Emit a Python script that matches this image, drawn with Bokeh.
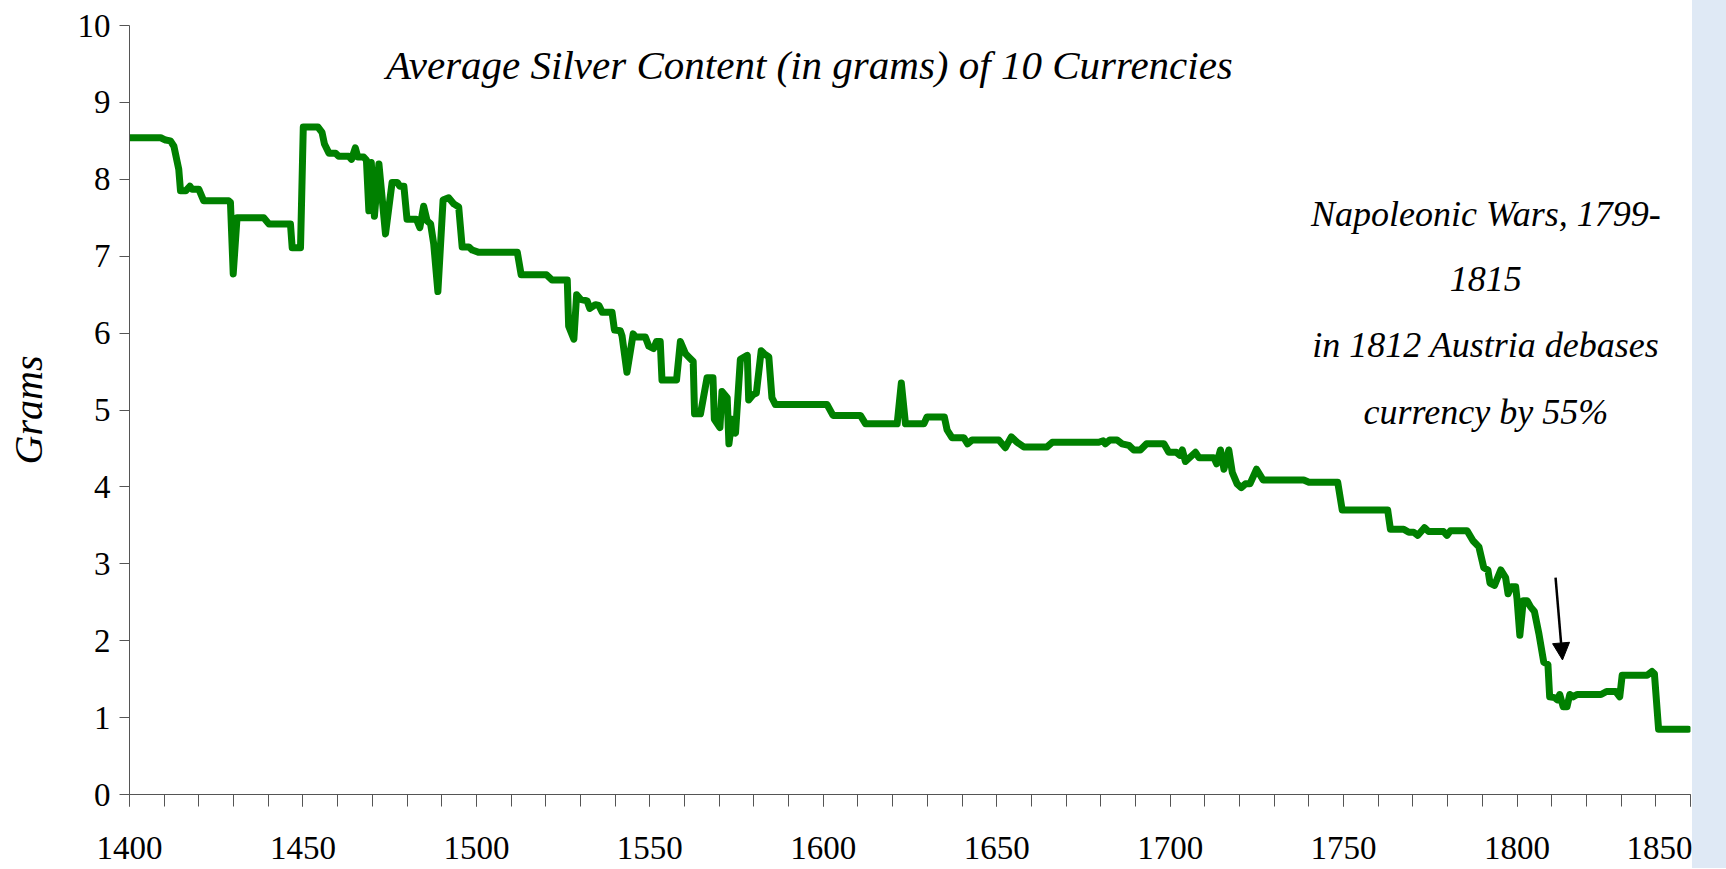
from bokeh.plotting import figure
from bokeh.models import (ColumnDataSource, Range1d, FixedTicker, Label, Arrow,
                          NormalHead, Div)
from bokeh.layouts import row
from bokeh.embed import file_html
from bokeh.resources import INLINE

# ---- data ----
years = [1400.0, 1409.0, 1410.4, 1411.8, 1412.8, 1414.2, 1414.7, 1416.2, 1417.4, 1418.1,
         1420.0, 1421.4, 1428.6, 1429.1, 1429.9, 1431.0, 1438.7, 1440.2, 1446.4, 1446.9,
         1449.3, 1450.1, 1454.3, 1455.5, 1456.2, 1457.5, 1459.4, 1460.3, 1463.2, 1464.0,
         1465.1, 1465.8, 1467.5, 1468.3, 1469.0, 1469.7, 1470.6, 1471.9, 1473.8, 1475.7,
         1477.2, 1477.9, 1479.1, 1480.0, 1482.7, 1483.7, 1484.8, 1485.8, 1486.8, 1487.7,
         1488.9, 1490.4, 1492.0, 1493.5, 1494.9, 1495.9, 1497.8, 1498.8, 1500.7, 1511.8,
         1512.9, 1520.2, 1521.8, 1526.2, 1526.6, 1528.1, 1528.9, 1530.0, 1531.9, 1532.7,
         1534.3, 1535.3, 1536.3, 1539.1, 1539.8, 1541.5, 1542.0, 1543.4, 1545.2, 1545.9,
         1548.7, 1549.7, 1551.1, 1551.9, 1553.0, 1553.5, 1557.7, 1558.8, 1560.3, 1561.2,
         1562.5, 1562.9, 1564.6, 1566.5, 1568.2, 1568.6, 1570.2, 1570.8, 1572.3, 1572.8,
         1573.7, 1574.7, 1576.1, 1578.1, 1578.5, 1579.8, 1580.7, 1582.1, 1583.0, 1584.3,
         1585.2, 1586.2, 1601.1, 1602.8, 1610.7, 1612.2, 1621.3, 1622.5, 1623.7, 1629.0,
         1629.9, 1634.9, 1635.7, 1637.1, 1640.5, 1641.6, 1642.9, 1650.6, 1652.5, 1654.2,
         1655.9, 1657.8, 1664.5, 1666.0, 1679.4, 1680.7, 1681.3, 1682.6, 1684.7, 1686.1,
         1688.1, 1689.5, 1691.4, 1693.2, 1698.2, 1699.6, 1701.8, 1702.8, 1703.5, 1704.4,
         1707.3, 1708.3, 1712.6, 1713.4, 1714.5, 1715.5, 1716.9, 1717.9, 1719.3, 1720.5,
         1721.7, 1723.0, 1724.9, 1726.8, 1738.5, 1740.0, 1748.3, 1749.6, 1762.7, 1763.5,
         1767.3, 1768.8, 1770.2, 1771.4, 1773.3, 1774.5, 1778.8, 1779.8, 1780.8, 1785.6,
         1787.3, 1789.0, 1790.4, 1791.6, 1792.2, 1793.5, 1795.3, 1796.7, 1797.4, 1798.3,
         1799.6, 1800.0, 1800.8, 1801.8, 1802.9, 1803.9, 1805.0, 1806.3, 1807.7, 1808.9,
         1809.4, 1810.8, 1811.6, 1812.3, 1813.3, 1814.4, 1815.2, 1816.2, 1817.3, 1824.2,
         1825.8, 1828.4, 1829.6, 1830.3, 1837.5, 1838.9, 1839.6, 1840.8, 1849.3]
grams = [8.54, 8.54, 8.51, 8.50, 8.43, 8.13, 7.85, 7.85, 7.91, 7.87,
         7.87, 7.72, 7.72, 7.70, 6.77, 7.50, 7.50, 7.42, 7.42, 7.11,
         7.11, 8.68, 8.68, 8.61, 8.46, 8.34, 8.34, 8.30, 8.30, 8.26,
         8.41, 8.29, 8.29, 8.25, 7.59, 8.22, 7.52, 8.20, 7.29, 7.96,
         7.96, 7.91, 7.91, 7.48, 7.48, 7.37, 7.65, 7.46, 7.42, 7.16,
         6.54, 7.73, 7.76, 7.68, 7.64, 7.12, 7.12, 7.08, 7.05, 7.05,
         6.76, 6.76, 6.69, 6.69, 6.09, 5.92, 6.50, 6.44, 6.42, 6.32,
         6.37, 6.36, 6.27, 6.27, 6.04, 6.03, 5.96, 5.49, 5.99, 5.95,
         5.95, 5.83, 5.80, 5.89, 5.89, 5.39, 5.39, 5.89, 5.73, 5.69,
         5.63, 4.95, 4.95, 5.42, 5.42, 4.88, 4.77, 5.24, 5.16, 4.56,
         4.88, 4.70, 5.66, 5.71, 5.13, 5.20, 5.22, 5.77, 5.73, 5.69,
         5.16, 5.07, 5.07, 4.93, 4.93, 4.82, 4.82, 5.35, 4.82, 4.82,
         4.91, 4.91, 4.74, 4.64, 4.64, 4.56, 4.61, 4.61, 4.51, 4.65,
         4.58, 4.52, 4.52, 4.58, 4.58, 4.60, 4.56, 4.61, 4.61, 4.56,
         4.54, 4.48, 4.48, 4.56, 4.56, 4.45, 4.45, 4.41, 4.48, 4.33,
         4.45, 4.38, 4.38, 4.30, 4.48, 4.23, 4.48, 4.19, 4.04, 3.99,
         4.04, 4.04, 4.23, 4.09, 4.09, 4.06, 4.06, 3.70, 3.70, 3.45,
         3.45, 3.41, 3.41, 3.37, 3.47, 3.42, 3.42, 3.37, 3.43, 3.43,
         3.30, 3.22, 2.95, 2.92, 2.75, 2.72, 2.92, 2.82, 2.61, 2.70,
         2.70, 2.54, 2.07, 2.52, 2.52, 2.44, 2.38, 2.09, 1.72, 1.69,
         1.27, 1.26, 1.23, 1.30, 1.14, 1.14, 1.30, 1.27, 1.30, 1.30,
         1.34, 1.34, 1.27, 1.55, 1.55, 1.60, 1.57, 0.85, 0.85]

x_major_ticks = [1400, 1450, 1500, 1550, 1600, 1650, 1700, 1750, 1800, 1850]
x_minor_ticks = list(range(1400, 1851, 10))
y_ticks = [0, 1, 2, 3, 4, 5, 6, 7, 8, 9, 10]

subtitle = "Average Silver Content (in grams) of 10 Currencies"
note_lines = ["Napoleonic Wars, 1799-", "1815", "in 1812 Austria debases", "currency by 55%"]
y_label = "Grams"

# ---- figure ----
SERIF = "'Liberation Serif', 'Times New Roman', serif"
p = figure(width=1692, height=868, output_backend="svg", toolbar_location=None,
           x_range=Range1d(1400, 1850), y_range=Range1d(0, 10),
           min_border_left=129, min_border_right=2, min_border_top=25,
           min_border_bottom=74)
p.background_fill_color = "white"
p.border_fill_color = "white"
p.outline_line_color = None
p.grid.visible = False

src = ColumnDataSource(dict(year=years, grams=grams))
p.line("year", "grams", source=src, line_color="#008000", line_width=7,
       line_join="round", line_cap="round")

# axes
AX = "#555555"
xa = p.xaxis[0]
xa.ticker = FixedTicker(ticks=x_major_ticks, minor_ticks=x_minor_ticks)
xa.axis_line_color = AX
xa.major_tick_line_color = AX
xa.minor_tick_line_color = AX
xa.major_tick_in = 0
xa.major_tick_out = 12
xa.minor_tick_in = 0
xa.minor_tick_out = 12
xa.major_label_standoff = 30
xa.major_label_text_font = SERIF
xa.major_label_text_font_size = "33px"
xa.major_label_text_color = "black"

ya = p.yaxis[0]
ya.ticker = FixedTicker(ticks=y_ticks, minor_ticks=[])
ya.axis_line_color = AX
ya.major_tick_line_color = AX
ya.minor_tick_line_color = None
ya.major_tick_in = 0
ya.major_tick_out = 10
ya.major_label_standoff = 9
ya.major_label_text_font = SERIF
ya.major_label_text_font_size = "33px"
ya.major_label_text_color = "black"
ya.axis_label = y_label
ya.axis_label_text_font = SERIF
ya.axis_label_text_font_style = "italic"
ya.axis_label_text_font_size = "40px"
ya.axis_label_text_color = "black"
ya.axis_label_standoff = 24

# subtitle inside the frame
p.add_layout(Label(x=1596, y=9.48, text=subtitle, text_align="center",
                   text_baseline="alphabetic", text_font=SERIF,
                   text_font_style="italic", text_font_size="41px",
                   text_color="black"))

# note text
note_y = [7.55, 6.71, 5.84, 4.98]
for line, yy in zip(note_lines, note_y):
    p.add_layout(Label(x=1791, y=yy, text=line, text_align="center",
                       text_baseline="alphabetic", text_font=SERIF,
                       text_font_style="italic", text_font_size="36px",
                       text_color="black"))

# arrow
p.add_layout(Arrow(end=NormalHead(size=17, fill_color="black", line_color="black"),
                   x_start=1811.1, y_start=2.82, x_end=1813.1, y_end=1.75,
                   line_color="black", line_width=2.5))

# light-blue slide strip at the right edge
strip = Div(width=34, height=868, margin=0,
            styles={"background-color": "#dfe9f5"})

layout = row(p, strip, spacing=0)
open("out.html", "w").write(file_html(layout, INLINE))
